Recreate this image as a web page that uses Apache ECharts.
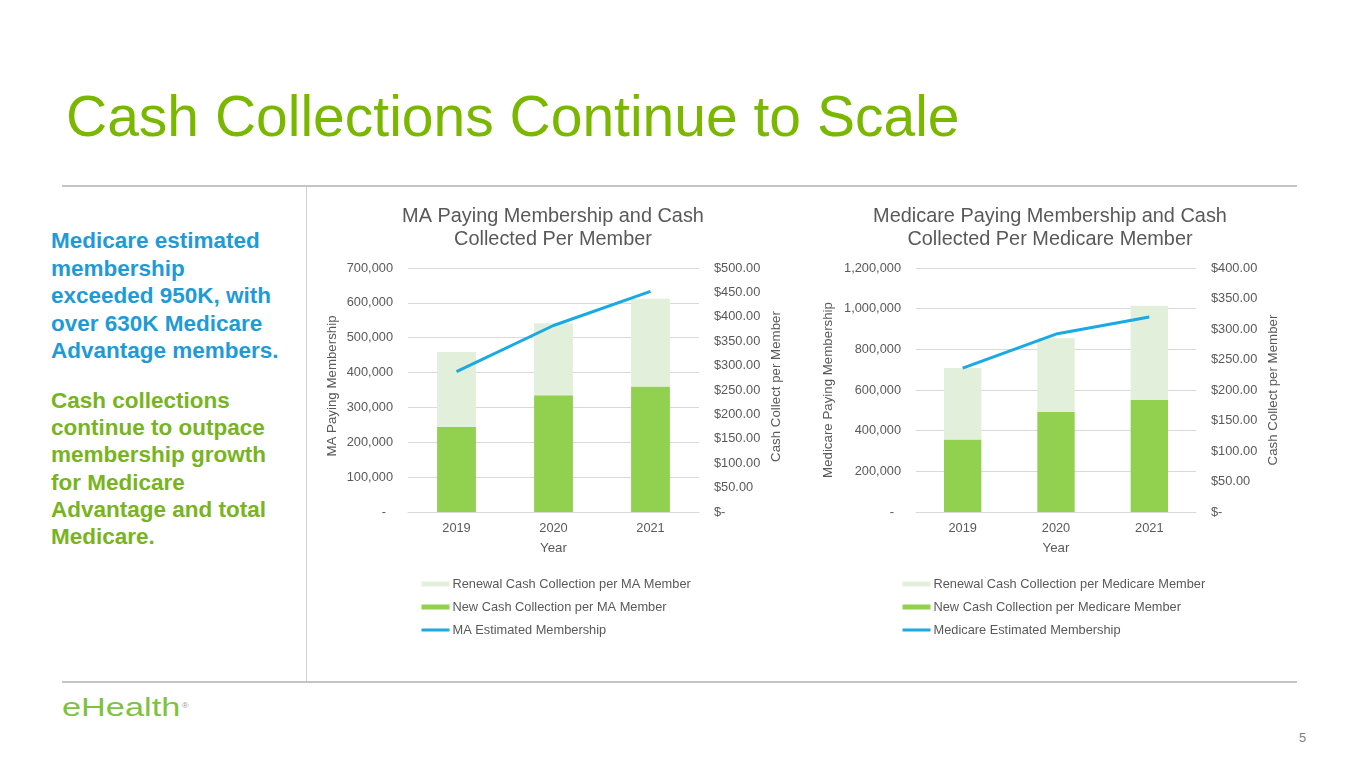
<!DOCTYPE html>
<html lang="en">
<head>
<meta charset="UTF-8">
<title>Cash Collections Continue to Scale</title>
<script src="https://cdn.jsdelivr.net/npm/echarts@6/dist/echarts.min.js"></script>
<style>
    body { margin: 0; background: #fff; font-family: "Liberation Sans", Arial, sans-serif; }
    #slide { position: relative; width: 1365px; height: 768px; overflow: hidden; }
    #chartmain { position: absolute; left: 0; top: 0; width: 1365px; height: 768px; }
    .rule { position: absolute; background: #c4c4c4; }
    .headline { position: absolute; left: 66px; top: 88px; font-size: 57px; line-height: 57px; color: #7ab800; white-space: nowrap; }
    .note { position: absolute; left: 51px; font-size: 22.5px; font-weight: bold; line-height: 27.5px; white-space: nowrap; }
    .logo { position: absolute; left: 62px; top: 694px; font-size: 26px; line-height: 26px; color: #7dc242;
            transform: scaleX(1.32); transform-origin: left top; white-space: nowrap; }
    .logo sup { font-size: 7px; vertical-align: top; position: relative; top: -1px; margin-left: 1px; color: #a0a0a0; }
    .pagenum { position: absolute; left: 1299px; top: 730px; font-size: 12.8px; line-height: 16px; color: #7f7f7f; }
</style>
</head>
<body>
<div id="slide">
    <div class="headline">Cash Collections Continue to Scale</div>
    <div class="rule" style="left:62px;top:185px;width:1235px;height:2px;"></div>
    <div class="rule" style="left:62px;top:681px;width:1235px;height:2px;"></div>
    <div class="rule" style="left:306px;top:187px;width:1px;height:494px;background:#d0d0d0;"></div>
    <div class="note" style="top:227px;color:#1e9bd7;">Medicare estimated<br>membership<br>exceeded 950K, with<br>over 630K Medicare<br>Advantage members.</div>
    <div class="note" style="top:387px;line-height:27.2px;color:#78b41e;">Cash collections<br>continue to outpace<br>membership growth<br>for Medicare<br>Advantage and total<br>Medicare.</div>
    <div class="logo">eHealth<sup>®</sup></div>
    <div class="pagenum">5</div>
    <div id="chartmain"></div>
</div>
<script>
    var years = ['2019', '2020', '2021'];

    // MA chart: cash per member ($) and estimated membership
    var maNewCash = [174, 239, 257];
    var maRenewalCash = [154, 148, 180];
    var maMembers = [403000, 535000, 633000];

    // Medicare chart
    var medNewCash = [119, 164, 184];
    var medRenewalCash = [117, 121, 154];
    var medMembers = [708000, 875000, 959000];

    // axis ranges [min, max, interval]
    var maMemberAxis = [0, 700000, 100000];
    var maCashAxis = [0, 500, 50];
    var medMemberAxis = [0, 1200000, 200000];
    var medCashAxis = [0, 400, 50];

    var grey = '#595959';
    var gridGrey = '#d9d9d9';
    var newGreen = '#92d050';
    var renewGreen = '#e2efda';
    var lineBlue = '#19a9e3';

    function memberLabel(v) {
        return v === 0 ? '-  ' : v.toLocaleString('en-US');
    }
    function cashLabel(v) {
        return v === 0 ? '$-' : '$' + v.toFixed(2);
    }

    function xAxisFor(idx) {
        return {
            type: 'category',
            gridIndex: idx,
            data: years,
            axisLine: { lineStyle: { color: gridGrey } },
            axisTick: { show: false },
            axisLabel: { color: grey, fontSize: 12.8, margin: 10 },
            name: 'Year',
            nameLocation: 'middle',
            nameGap: 30,
            nameTextStyle: { color: grey, fontSize: 13.3 }
        };
    }

    // shift = padding that nudges the rotated name upward
    function yAxisFor(idx, pos, range, name, gap, fmt, shift) {
        return {
            type: 'value',
            gridIndex: idx,
            position: pos,
            min: range[0],
            max: range[1],
            interval: range[2],
            axisLine: { show: false },
            axisTick: { show: false },
            splitLine: { show: pos === 'left', lineStyle: { color: gridGrey } },
            axisLabel: { color: grey, fontSize: 12.8, margin: 15, formatter: fmt },
            name: name,
            nameLocation: 'middle',
            nameRotate: 90,
            nameGap: gap,
            nameTextStyle: { color: grey, fontSize: 13.3, padding: [0, 0, 0, shift] }
        };
    }

    function legendFor(left, names) {
        return {
            orient: 'vertical',
            left: left,
            top: 576,
            padding: 0,
            itemWidth: 28,
            itemHeight: 5,
            itemGap: 7,
            textStyle: { color: grey, fontSize: 12.8, lineHeight: 16, padding: [0, 0, 0, -2] },
            data: [
                { name: names[0], icon: 'rect' },
                { name: names[1], icon: 'rect' },
                { name: names[2], itemStyle: { opacity: 0 }, lineStyle: { width: 3 } }
            ]
        };
    }

    var maNames = ['Renewal Cash Collection per MA Member', 'New Cash Collection per MA Member', 'MA Estimated Membership'];
    var medNames = ['Renewal Cash Collection per Medicare Member', 'New Cash Collection per Medicare Member', 'Medicare Estimated Membership'];

    var option = {
        animation: false,
        textStyle: { fontFamily: '"Liberation Sans", Arial, sans-serif' },
        title: [
            {
                text: 'MA Paying Membership and Cash\nCollected Per Member',
                left: 553, top: 205, textAlign: 'center', padding: 0,
                textStyle: { color: grey, fontSize: 19.9, fontWeight: 'normal', lineHeight: 23.3 }
            },
            {
                text: 'Medicare Paying Membership and Cash\nCollected Per Medicare Member',
                left: 1050, top: 205, textAlign: 'center', padding: 0,
                textStyle: { color: grey, fontSize: 19.9, fontWeight: 'normal', lineHeight: 23.3 }
            }
        ],
        legend: [legendFor(420, maNames), legendFor(901, medNames)],
        grid: [
            { left: 408, top: 268, width: 291, height: 244 },
            { left: 916, top: 268, width: 280, height: 244 }
        ],
        xAxis: [xAxisFor(0), xAxisFor(1)],
        yAxis: [
            yAxisFor(0, 'left', maMemberAxis, 'MA Paying Membership', 69, memberLabel, 8),
            yAxisFor(0, 'right', maCashAxis, 'Cash Collect per Member', 71, cashLabel, 7),
            yAxisFor(1, 'left', medMemberAxis, 'Medicare Paying Membership', 81, memberLabel, 0),
            yAxisFor(1, 'right', medCashAxis, 'Cash Collect per Member', 71, cashLabel, 0)
        ],
        series: [
            { name: maNames[1], type: 'bar', xAxisIndex: 0, yAxisIndex: 1, stack: 'ma', barWidth: '40%',
              itemStyle: { color: newGreen }, data: maNewCash },
            { name: maNames[0], type: 'bar', xAxisIndex: 0, yAxisIndex: 1, stack: 'ma', barWidth: '40%',
              itemStyle: { color: renewGreen }, data: maRenewalCash },
            { name: maNames[2], type: 'line', xAxisIndex: 0, yAxisIndex: 0, symbol: 'none', z: 5,
              lineStyle: { color: lineBlue, width: 3 }, itemStyle: { color: lineBlue }, data: maMembers },
            { name: medNames[1], type: 'bar', xAxisIndex: 1, yAxisIndex: 3, stack: 'med', barWidth: '40%',
              itemStyle: { color: newGreen }, data: medNewCash },
            { name: medNames[0], type: 'bar', xAxisIndex: 1, yAxisIndex: 3, stack: 'med', barWidth: '40%',
              itemStyle: { color: renewGreen }, data: medRenewalCash },
            { name: medNames[2], type: 'line', xAxisIndex: 1, yAxisIndex: 2, symbol: 'none', z: 5,
              lineStyle: { color: lineBlue, width: 3 }, itemStyle: { color: lineBlue }, data: medMembers }
        ]
    };

    var myChart = echarts.init(document.getElementById('chartmain'));
    myChart.setOption(option);
</script>
</body>
</html>
